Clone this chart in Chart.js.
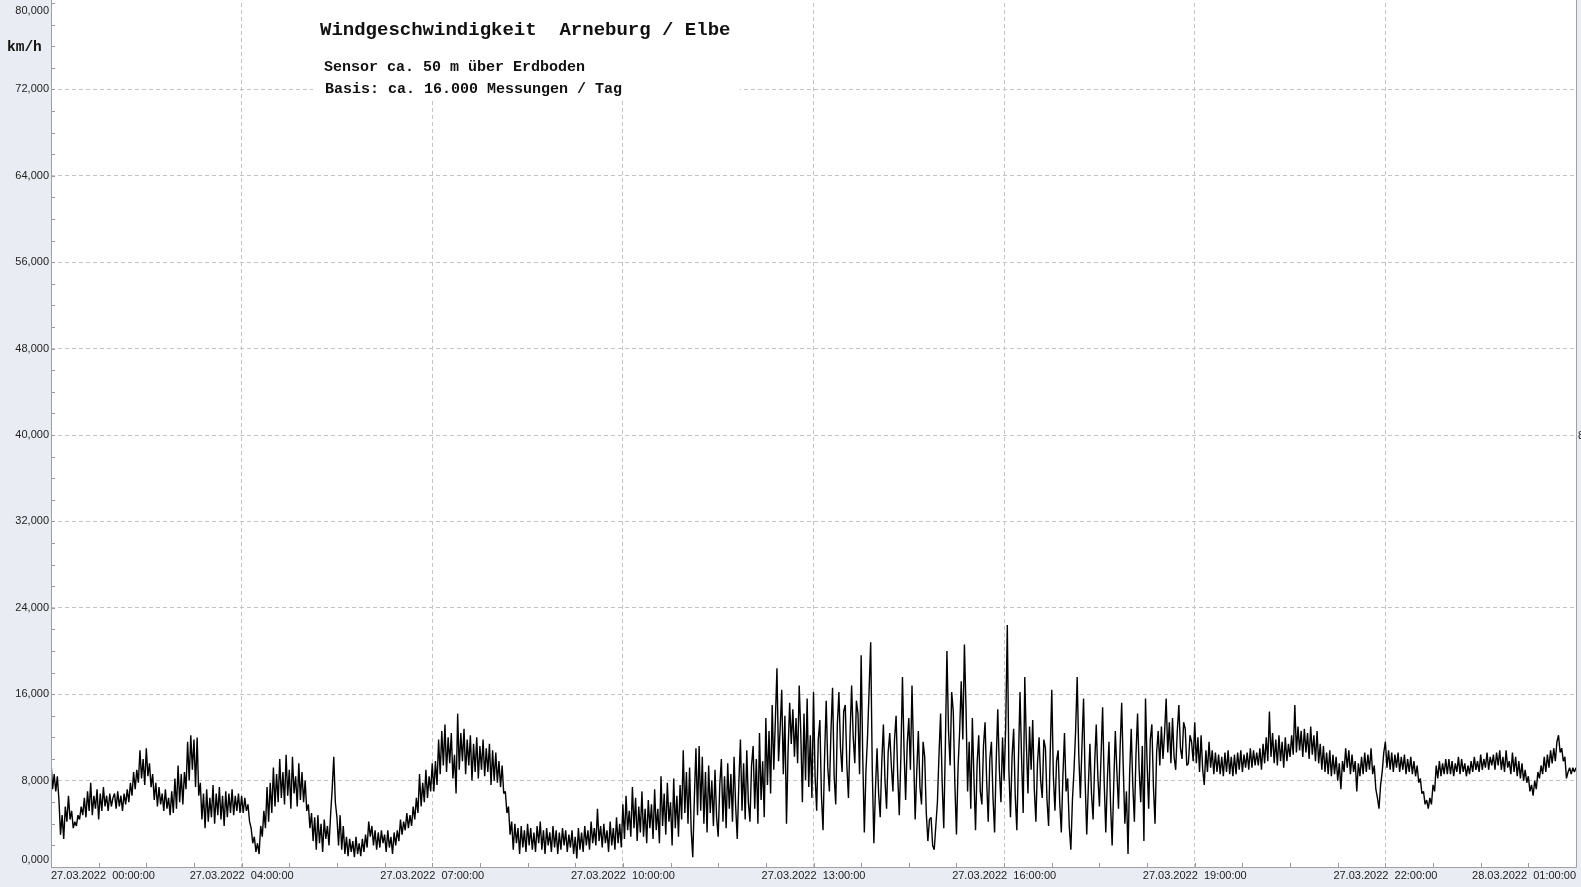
<!DOCTYPE html>
<html><head><meta charset="utf-8">
<script src="https://cdn.jsdelivr.net/npm/chart.js@4/dist/chart.umd.min.js"></script>
<style>html,body{margin:0;padding:0;background:#e9ecf2;overflow:hidden}#wrap{width:1581px;height:887px;position:relative}</style>
</head><body><div id="wrap"><canvas id="c"></canvas></div>
<script>
// ---- texts ----
const titleText = 'Windgeschwindigkeit  Arneburg / Elbe';
const subtitleLines = ['Sensor ca. 50 m über Erdboden', 'Basis: ca. 16.000 Messungen / Tag'];
const unitLabel = 'km/h';

// ---- axes ----
const yTicks = [0, 8, 16, 24, 32, 40, 48, 56, 64, 72, 80];
const xGridHours = [4, 7, 10, 13, 16, 19, 22];
const xLabelHours = [1, 4, 7, 10, 13, 16, 19, 22, 25];
const xLabels = ['27.03.2022  00:00:00', '27.03.2022  04:00:00', '27.03.2022  07:00:00',
  '27.03.2022  10:00:00', '27.03.2022  13:00:00', '27.03.2022  16:00:00',
  '27.03.2022  19:00:00', '27.03.2022  22:00:00', '28.03.2022  01:00:00'];

// ---- series: wind speed km/h, one value every 1.5 minutes, starting at axis hour 1 ----
const startHour = 1, stepHours = 0.025;
const speedH01 = [9.8, 7.2, 8.6, 7.0, 8.4, 6.2, 3.0, 4.8, 2.6, 5.6,
  4.2, 6.6, 4.4, 5.2, 3.6, 4.2, 3.8, 4.8, 4.4, 5.6,
  4.8, 6.4, 4.6, 7.0, 5.2, 7.8, 4.8, 6.6, 5.4, 7.2,
  4.4, 6.8, 5.2, 7.4, 5.6, 6.6, 5.2, 6.8, 5.6, 6.4];
const speedH02 = [6.8, 5.4, 7.0, 5.6, 6.6, 5.2, 6.8, 5.8, 7.2, 6.0,
  7.8, 6.6, 8.8, 7.2, 9.0, 7.8, 10.8, 8.2, 10.0, 7.6,
  11.0, 8.4, 9.6, 7.4, 8.6, 6.2, 7.8, 5.6, 7.4, 5.8,
  6.8, 5.2, 7.2, 5.4, 6.4, 4.8, 7.0, 5.0, 8.2, 5.4];
const speedH03 = [9.4, 6.0, 8.6, 5.8, 8.8, 7.2, 11.6, 8.0, 12.2, 9.0,
  11.8, 7.4, 12.0, 6.6, 7.8, 4.4, 6.8, 3.6, 7.2, 4.2,
  6.4, 4.6, 7.6, 4.0, 6.8, 4.8, 7.4, 4.4, 6.6, 3.8,
  7.0, 4.6, 6.8, 5.0, 7.2, 4.8, 6.6, 5.2, 6.8, 5.0];
const speedH04 = [6.6, 5.0, 6.4, 5.2, 5.8, 4.2, 3.6, 2.2, 2.8, 1.4,
  2.2, 1.2, 3.8, 2.8, 5.2, 3.6, 7.4, 4.2, 7.8, 5.0,
  9.2, 5.6, 8.6, 6.0, 10.0, 6.4, 8.8, 5.8, 10.4, 6.6,
  9.0, 5.4, 10.2, 6.8, 8.4, 5.6, 9.6, 6.2, 8.8, 6.0];
const speedH05 = [8.0, 5.2, 5.8, 3.6, 5.0, 2.4, 4.6, 1.6, 4.8, 2.2,
  4.0, 1.4, 4.4, 2.6, 3.8, 2.0, 4.8, 7.2, 10.2, 6.0,
  4.6, 2.0, 4.8, 1.6, 3.8, 1.2, 2.8, 1.0, 2.6, 1.4,
  2.4, 0.9, 2.8, 1.2, 2.2, 1.0, 2.6, 1.4, 3.0, 1.8];
const speedH06 = [4.2, 2.8, 3.8, 2.0, 3.4, 1.6, 3.2, 1.8, 3.4, 2.2,
  3.0, 1.4, 3.4, 1.8, 2.8, 1.2, 3.2, 2.0, 3.4, 2.4,
  4.4, 3.0, 4.2, 3.4, 5.0, 3.6, 4.8, 3.8, 5.6, 4.4,
  6.4, 5.0, 8.6, 5.6, 7.8, 6.0, 9.0, 6.4, 8.4, 7.0];
const speedH07 = [9.6, 7.0, 9.8, 7.6, 11.8, 8.6, 12.6, 9.4, 13.2, 8.8,
  12.0, 9.6, 12.4, 8.2, 10.4, 6.8, 14.2, 9.0, 12.4, 9.8,
  12.8, 8.6, 11.8, 9.4, 12.2, 8.0, 11.4, 8.8, 12.0, 8.2,
  11.2, 9.0, 11.8, 8.4, 11.0, 8.8, 11.4, 7.6, 10.8, 8.0];
const speedH08 = [10.6, 7.8, 9.8, 7.4, 9.4, 6.8, 7.0, 5.0, 5.6, 3.0,
  4.2, 1.6, 4.0, 2.2, 3.6, 1.2, 3.8, 1.8, 3.4, 1.4,
  4.0, 2.0, 3.6, 1.6, 3.2, 1.4, 3.8, 2.2, 4.2, 1.6,
  3.4, 1.2, 3.6, 2.0, 3.2, 1.4, 3.8, 1.8, 3.4, 1.2];
const speedH09 = [3.2, 1.6, 3.6, 2.0, 3.4, 1.4, 3.0, 1.8, 3.4, 1.2,
  2.8, 0.8, 3.6, 1.6, 3.2, 1.4, 3.8, 2.0, 3.4, 1.6,
  4.2, 2.2, 3.6, 2.0, 5.4, 2.4, 3.8, 1.8, 4.0, 2.2,
  3.4, 1.4, 4.2, 2.0, 3.6, 1.6, 4.6, 2.2, 4.0, 1.8];
const speedH10 = [5.8, 2.6, 6.6, 3.4, 5.2, 2.8, 7.4, 3.6, 6.4, 2.4,
  5.6, 3.2, 7.0, 2.8, 5.4, 2.2, 6.2, 3.6, 5.8, 2.6,
  7.2, 3.4, 5.4, 2.2, 8.4, 3.8, 6.8, 3.0, 7.8, 4.2,
  6.0, 2.0, 8.2, 3.6, 6.6, 2.8, 7.6, 4.4, 10.8, 5.0];
const speedH11 = [8.8, 4.0, 9.2, 3.4, 0.9, 6.4, 11.0, 4.8, 11.2, 5.2,
  10.2, 4.0, 8.8, 3.2, 9.4, 5.0, 8.0, 3.8, 9.0, 4.6,
  2.8, 7.6, 10.0, 4.2, 8.4, 3.6, 9.6, 5.4, 8.6, 4.2,
  10.2, 5.6, 2.6, 7.8, 11.8, 5.2, 9.6, 4.4, 10.8, 6.0];
const speedH12 = [4.2, 9.4, 11.2, 5.4, 10.0, 4.0, 12.4, 6.2, 9.8, 4.6,
  13.8, 7.6, 12.6, 6.8, 15.0, 9.0, 13.6, 18.4, 9.8, 12.8,
  16.4, 8.6, 14.0, 4.0, 10.8, 15.2, 11.4, 14.6, 10.2, 13.8,
  9.6, 16.8, 12.4, 6.0, 14.2, 8.0, 15.6, 7.4, 12.2, 6.4];
const speedH13 = [16.2, 8.4, 5.2, 11.8, 13.6, 6.6, 3.4, 10.4, 15.4, 9.2,
  7.0, 12.6, 16.6, 8.4, 5.8, 13.2, 16.2, 11.0, 8.8, 14.4,
  15.0, 9.4, 6.4, 12.2, 16.8, 12.0, 9.6, 15.4, 14.2, 8.6,
  19.6, 10.2, 3.2, 8.8, 12.0, 16.4, 20.8, 9.0, 2.2, 7.2];
const speedH14 = [11.0, 6.8, 4.6, 9.8, 13.2, 8.0, 5.4, 10.6, 12.4, 9.4,
  7.0, 11.8, 14.0, 8.6, 4.8, 10.2, 17.6, 10.8, 6.2, 11.4,
  13.8, 9.0, 16.8, 10.6, 4.4, 8.8, 12.6, 7.4, 5.8, 11.6,
  10.2, 5.0, 2.4, 4.4, 4.6, 2.0, 1.6, 3.8, 6.0, 10.4];
const speedH15 = [14.2, 7.8, 3.6, 11.2, 20.0, 12.6, 9.4, 16.2, 14.4, 7.6,
  3.0, 9.2, 12.6, 17.2, 11.8, 20.6, 14.8, 7.0, 11.6, 5.4,
  13.8, 8.2, 3.4, 9.6, 12.2, 7.0, 5.8, 11.2, 13.4, 8.0,
  4.2, 10.0, 11.6, 6.4, 3.2, 9.8, 14.6, 9.0, 6.0, 12.0];
const speedH16 = [8.0, 13.0, 22.4, 9.0, 4.6, 10.2, 12.8, 6.6, 3.4, 9.8,
  16.2, 10.0, 5.0, 17.6, 11.4, 6.8, 13.0, 9.0, 13.6, 7.2,
  4.2, 9.6, 12.0, 8.0, 6.4, 11.8, 11.0, 6.2, 3.8, 10.4,
  16.4, 8.4, 5.2, 9.8, 10.8, 6.0, 3.2, 8.4, 12.4, 7.0];
const speedH17 = [8.2, 3.8, 1.6, 6.2, 9.0, 12.6, 17.6, 10.4, 6.4, 11.2,
  15.6, 8.0, 3.0, 7.4, 11.4, 6.8, 4.4, 9.6, 13.2, 8.4,
  5.6, 10.2, 14.8, 7.8, 3.2, 8.2, 11.6, 5.8, 2.0, 7.6,
  12.6, 8.8, 5.4, 11.0, 15.2, 9.2, 4.0, 7.0, 1.2, 8.6];
const speedH18 = [12.8, 7.6, 4.2, 10.4, 14.2, 9.0, 6.0, 11.2, 2.4, 15.6,
  9.6, 5.4, 11.8, 13.2, 7.4, 4.0, 10.6, 12.6, 9.4, 13.0,
  10.0, 12.4, 15.6, 10.6, 13.4, 9.6, 13.8, 10.2, 9.0, 12.6,
  15.0, 11.0, 10.0, 13.4, 12.8, 9.4, 9.6, 12.2, 11.6, 9.8];
const speedH19 = [13.4, 9.6, 12.0, 8.8, 12.2, 9.0, 7.6, 10.8, 8.8, 11.6,
  9.2, 10.8, 8.6, 10.6, 8.8, 10.4, 8.6, 10.2, 8.4, 10.6,
  8.8, 10.8, 8.6, 10.2, 8.4, 10.4, 8.6, 10.6, 9.0, 10.8,
  8.8, 10.4, 9.2, 10.6, 9.0, 11.0, 9.2, 10.8, 9.4, 10.6];
const speedH20 = [9.4, 11.0, 9.0, 11.4, 9.6, 12.0, 9.8, 14.4, 10.2, 12.4,
  9.6, 11.8, 9.4, 12.2, 9.8, 11.6, 9.2, 12.0, 9.8, 11.4,
  10.2, 12.2, 10.4, 15.0, 10.6, 13.0, 10.8, 12.6, 10.2, 12.8,
  10.6, 12.4, 10.0, 13.0, 10.4, 12.2, 9.8, 12.6, 9.6, 11.4];
const speedH21 = [9.0, 11.2, 8.8, 10.6, 8.6, 10.8, 8.4, 10.4, 8.6, 10.2,
  8.0, 9.6, 7.2, 9.8, 8.8, 11.0, 9.2, 10.8, 8.6, 10.4,
  8.8, 9.8, 7.0, 9.6, 8.4, 10.2, 8.6, 10.6, 8.8, 10.4,
  9.0, 11.0, 8.6, 9.4, 7.2, 6.4, 5.4, 7.6, 8.8, 10.6];
const speedH22 = [11.6, 9.2, 10.8, 9.0, 10.6, 8.8, 10.4, 9.2, 10.6, 8.8,
  10.2, 9.0, 10.4, 8.6, 10.0, 8.8, 10.2, 8.6, 9.8, 8.4,
  9.4, 7.8, 8.2, 6.8, 7.0, 5.8, 6.2, 5.4, 6.4, 5.8,
  7.6, 7.0, 9.4, 8.2, 9.8, 8.4, 9.6, 8.6, 10.0, 8.6];
const speedH23 = [10.0, 8.6, 9.8, 8.4, 9.6, 8.8, 10.2, 8.6, 10.0, 8.8,
  9.6, 8.4, 9.4, 8.6, 9.8, 8.8, 10.2, 9.0, 9.8, 8.8,
  10.4, 9.0, 10.0, 9.2, 10.6, 9.0, 10.2, 9.4, 10.4, 9.0,
  10.6, 9.4, 10.8, 9.0, 10.2, 8.8, 10.8, 9.2, 9.8, 8.6];
const speedH24 = [10.6, 8.8, 10.2, 8.4, 9.8, 8.2, 9.6, 8.0, 9.0, 7.8,
  8.4, 7.0, 7.6, 6.6, 8.0, 7.2, 8.8, 8.2, 9.4, 8.6,
  10.2, 8.8, 10.4, 9.2, 10.8, 9.6, 11.0, 9.8, 11.6, 12.2,
  10.6, 11.0, 9.8, 10.2, 8.2, 8.8, 9.2, 8.6, 9.2, 8.8, 9.2];

const speedValues = [].concat(speedH01, speedH02, speedH03, speedH04, speedH05, speedH06,
  speedH07, speedH08, speedH09, speedH10, speedH11, speedH12, speedH13, speedH14, speedH15,
  speedH16, speedH17, speedH18, speedH19, speedH20, speedH21, speedH22, speedH23, speedH24);
const points = speedValues.map((v, i) => ({ x: startHour + i * stepHours, y: v }));

const fmt = v => v.toFixed(3).replace('.', ',');
const BG = '#e9ecf2';
const LABEL_FONT = '11px "Liberation Sans", Arial, sans-serif';
const MONO = '"Liberation Mono", "Courier New", monospace';

const deco = {
  id: 'deco',
  beforeDraw(chart) {
    const { ctx, chartArea: a } = chart;
    ctx.save();
    ctx.fillStyle = BG; ctx.fillRect(0, 0, chart.width, chart.height);
    ctx.fillStyle = '#ffffff'; ctx.fillRect(a.left, 0, a.right - a.left, a.bottom);
    ctx.restore();
  },
  beforeDatasetsDraw(chart) {
    const { ctx, chartArea: a, scales: { x, y } } = chart;
    ctx.save();
    ctx.fillStyle = '#ffffff';
    ctx.fillRect(313, 0, 427, 98);
    ctx.strokeStyle = '#9a9a9a'; ctx.lineWidth = 1;
    ctx.beginPath();
    for (let v = 0; v <= 80; v += 2) {
      const py = Math.round(y.getPixelForValue(v)) + 0.5;
      ctx.moveTo(a.left, py); ctx.lineTo(a.left + 4, py);
    }
    for (let h = 1; h <= 25.001; h += 0.75) {
      const px = Math.round(x.getPixelForValue(h)) + 0.5;
      ctx.moveTo(px, a.bottom); ctx.lineTo(px, a.bottom - 4);
    }
    ctx.stroke();
    ctx.restore();
  },
  afterDraw(chart) {
    const { ctx, chartArea: a, scales: { x, y } } = chart;
    ctx.save();
    ctx.strokeStyle = '#a0a0a0'; ctx.lineWidth = 1;
    ctx.beginPath();
    ctx.moveTo(a.left + 0.5, 0); ctx.lineTo(a.left + 0.5, a.bottom + 0.5);
    ctx.lineTo(a.right + 0.5, a.bottom + 0.5); ctx.lineTo(a.right + 0.5, 0);
    ctx.stroke();
    ctx.fillStyle = '#222'; ctx.font = LABEL_FONT;
    ctx.textAlign = 'right'; ctx.textBaseline = 'middle';
    yTicks.forEach(v => {
      const py = Math.min(Math.max(y.getPixelForValue(v), 11), 860);
      ctx.fillText(fmt(v), a.left - 2, py);
    });
    xLabelHours.forEach((h, i) => {
      const px = x.getPixelForValue(h);
      ctx.textAlign = i === 0 ? 'left' : (i === xLabelHours.length - 1 ? 'right' : 'center');
      ctx.fillText(xLabels[i], px, 876);
    });
    ctx.textAlign = 'left';
    ctx.fillText('80,000', a.right + 2, y.getPixelForValue(40) + 1);
    ctx.fillStyle = '#111';
    ctx.font = 'bold 14.5px ' + MONO;
    ctx.fillText(unitLabel, 7, 47);
    ctx.font = 'bold 19px ' + MONO;
    ctx.fillText(titleText, 320, 30);
    ctx.font = 'bold 15px ' + MONO;
    ctx.fillText(subtitleLines[0], 324, 67);
    ctx.fillText(subtitleLines[1], 325, 89);
    ctx.restore();
  }
};

new Chart(document.getElementById('c'), {
  type: 'line',
  data: { datasets: [{ data: points, borderColor: '#000', borderWidth: 1.4, borderJoinStyle: 'bevel', pointRadius: 0, tension: 0, fill: false }] },
  options: {
    responsive: true, maintainAspectRatio: false, animation: false,
    events: [],
    layout: { padding: { top: 3, right: 5, left: 0, bottom: 0 } },
    plugins: { legend: { display: false }, tooltip: { enabled: false } },
    scales: {
      x: {
        type: 'linear', min: 1, max: 25,
        afterBuildTicks: ax => { ax.ticks = xGridHours.map(v => ({ value: v })); },
        afterFit: s => { s.height = 20; },
        ticks: { display: false },
        grid: { color: '#c4c4c4', lineWidth: 1, drawTicks: false },
        border: { display: false, dash: [4, 3] }
      },
      y: {
        type: 'linear', min: 0, max: 80,
        afterBuildTicks: ax => { ax.ticks = yTicks.map(v => ({ value: v })); },
        afterFit: s => { s.width = 51; },
        ticks: { display: false },
        grid: { color: c => (c.tick && (c.tick.value === 0 || c.tick.value === 80)) ? 'rgba(0,0,0,0)' : '#c4c4c4', lineWidth: 1, drawTicks: false },
        border: { display: false, dash: [4, 3] }
      }
    }
  },
  plugins: [deco]
});
</script>
</body></html>
